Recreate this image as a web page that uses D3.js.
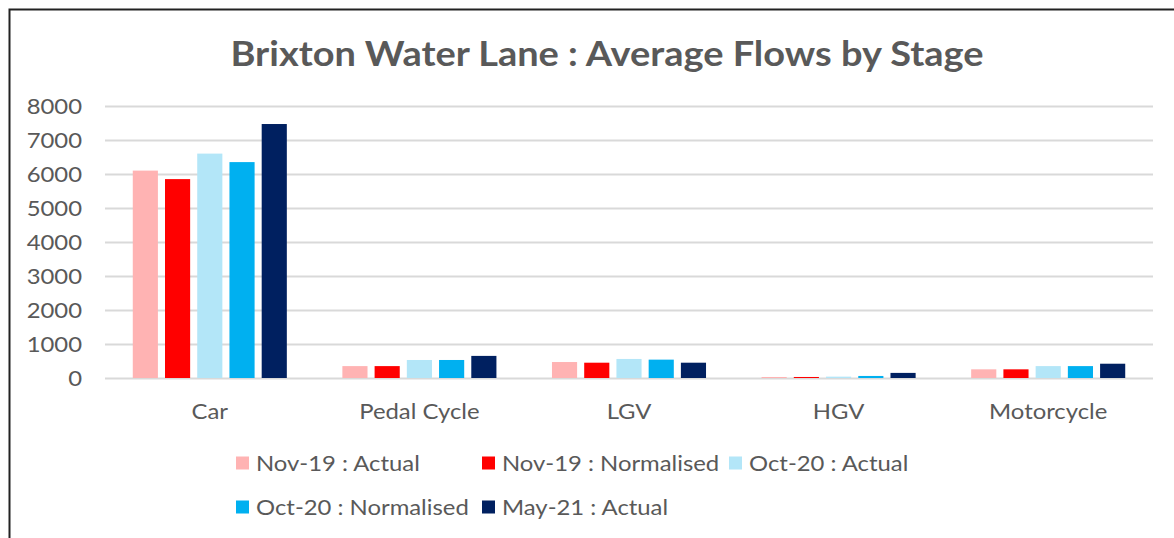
<!DOCTYPE html>
<html>
<head>
<meta charset="utf-8">
<script src="https://cdn.jsdelivr.net/npm/d3@7"></script>
<style>
  body { margin: 0; background: #fff; }
  svg { display: block; font-family: Lato, "Open Sans", sans-serif; }
</style>
</head>
<body>
<div class="chart"></div>
<script>
var categories = ["Car", "Pedal Cycle", "LGV", "HGV", "Motorcycle"];
var seriesNames = ["Nov-19 : Actual", "Nov-19 : Normalised", "Oct-20 : Actual", "Oct-20 : Normalised", "May-21 : Actual"];
var seriesColors = ["#ffb3b3", "#ff0000", "#b3e6f8", "#00b0f0", "#002060"];
var nov19Actual = [6100, 350, 470, 30, 255];
var nov19Norm = [5850, 350, 450, 30, 255];
var oct20Actual = [6600, 530, 560, 40, 350];
var oct20Norm = [6350, 530, 540, 60, 350];
var may21Actual = [7470, 650, 450, 150, 420];
var yTicks = [0, 1000, 2000, 3000, 4000, 5000, 6000, 7000, 8000];

var seriesValues = [nov19Actual, nov19Norm, oct20Actual, oct20Norm, may21Actual];

var svgWidth = 1174;
var svgHeight = 538;

var plot = { left: 105, right: 1153, top: 106, bottom: 378 };

// the source picture is a little wider than tall, so text gets stretched sideways
var sx = 1.085;

var svg = d3.select(".chart")
  .append("svg")
  .attr("width", svgWidth)
  .attr("height", svgHeight);

// chart border (top and left edges visible in the screenshot)
svg.append("path")
  .attr("d", "M9.5,560 V9.5 H1180")
  .attr("fill", "none")
  .attr("stroke", "#222")
  .attr("stroke-width", 2);

// title
svg.append("text")
  .attr("transform", `translate(607,66) scale(${sx},1)`)
  .attr("text-anchor", "middle")
  .attr("font-size", 35)
  .attr("font-weight", "bold")
  .attr("fill", "#595959")
  .text("Brixton Water Lane : Average Flows by Stage");

// scales
var x0 = d3.scaleBand()
  .domain(categories)
  .range([plot.left, plot.right])
  .paddingInner(0.265)
  .paddingOuter(0.1325);

var x1 = d3.scaleBand()
  .domain(seriesNames)
  .range([0, x0.bandwidth()])
  .paddingInner(0.22)
  .paddingOuter(0);

var y = d3.scaleLinear()
  .domain([0, 8000])
  .range([plot.bottom, plot.top]);

// gridlines
var yAxis = d3.axisLeft(y)
  .tickValues(yTicks)
  .tickSize(-(plot.right - plot.left))
  .tickPadding(23)
  .tickFormat(d3.format("d"));

var yG = svg.append("g")
  .attr("transform", `translate(${plot.left},0)`)
  .call(yAxis);
yG.select(".domain").remove();
yG.selectAll(".tick line")
  .attr("stroke", "#d9d9d9")
  .attr("stroke-width", 2);
yG.selectAll(".tick text")
  .attr("fill", "#595959")
  .attr("font-size", 22)
  .attr("font-family", "Lato, sans-serif")
  .attr("x", -23 / sx)
  .attr("transform", `scale(${sx},1)`);

// bars
var groups = svg.append("g")
  .selectAll("g")
  .data(categories)
  .enter()
  .append("g")
  .attr("transform", d => `translate(${x0(d)},0)`);

groups.selectAll("rect")
  .data((d, i) => seriesNames.map((s, j) => ({ series: s, value: seriesValues[j][i], color: seriesColors[j] })))
  .enter()
  .append("rect")
  .attr("x", d => x1(d.series))
  .attr("y", d => y(d.value))
  .attr("width", x1.bandwidth())
  .attr("height", d => y(0) - y(d.value))
  .attr("fill", d => d.color);

// category axis
var xAxis = d3.axisBottom(x0).tickSize(0).tickPadding(25);
var xG = svg.append("g")
  .attr("transform", `translate(0,${plot.bottom})`)
  .call(xAxis);
xG.select(".domain").remove();
xG.selectAll(".tick text")
  .attr("fill", "#595959")
  .attr("font-size", 22)
  .attr("font-family", "Lato, sans-serif")
  .attr("transform", `scale(${sx},1)`);

// legend
var legendPos = [
  { x: 236, y: 463 },
  { x: 482, y: 463 },
  { x: 729, y: 463 },
  { x: 236, y: 507 },
  { x: 482, y: 507 }
];

var legend = svg.append("g")
  .selectAll("g")
  .data(seriesNames)
  .enter()
  .append("g")
  .attr("transform", (d, i) => `translate(${legendPos[i].x},${legendPos[i].y})`);

legend.append("rect")
  .attr("x", 0)
  .attr("y", -6.5)
  .attr("width", 13)
  .attr("height", 13)
  .attr("fill", (d, i) => seriesColors[i]);

legend.append("text")
  .attr("transform", `translate(20,8) scale(${sx},1)`)
  .attr("font-size", 22)
  .attr("fill", "#595959")
  .text(d => d);
</script>
</body>
</html>
